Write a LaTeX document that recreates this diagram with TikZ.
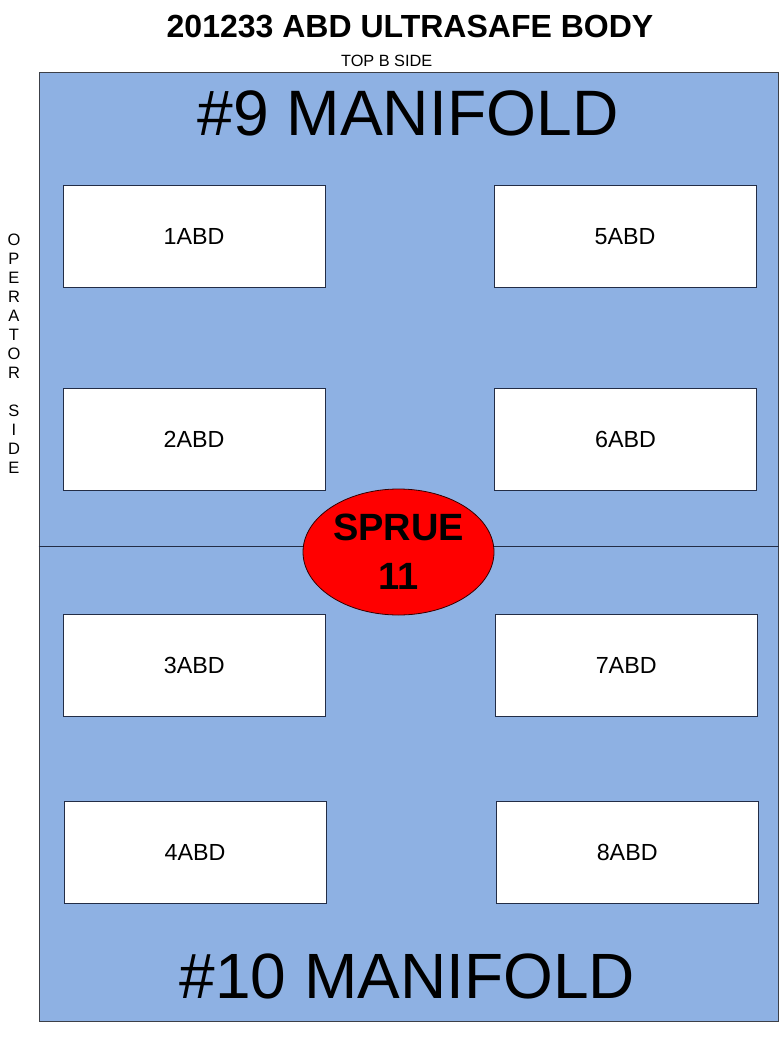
\documentclass[tikz,border=0pt]{standalone}
\usepackage{fontspec}
\setmainfont{Liberation Sans}
\usetikzlibrary{shapes.geometric}
\definecolor{bodyblue}{RGB}{142,177,227}
\definecolor{edgenavy}{RGB}{35,45,70}
\definecolor{edgegrey}{RGB}{60,64,72}
\definecolor{spruered}{RGB}{255,0,0}
\newcommand{\fsz}[1]{\fontsize{#1pt}{#1pt}\selectfont}
\begin{document}
\begin{tikzpicture}[x=1pt,y=-1pt,
  txt/.style={inner sep=0pt, outer sep=0pt, anchor=base, text=black},
  abdbox/.style={draw=edgenavy, fill=white, line width=1pt, minimum width=262pt, minimum height=102pt, inner sep=0pt, font=\fsz{23.3}},
  opletter/.style={inner sep=0pt, font=\fsz{16.5}},
]
\useasboundingbox (0,0) rectangle (780,1044);
\fill[white] (0,0) rectangle (780,1044);

% title texts
\node[txt, font=\fsz{32}\bfseries] (title) at (410,37.7) {201233 ABD ULTRASAFE BODY};
\node[txt, font=\fsz{16.3}] (top) at (386.7,66) {TOP B SIDE};

% body
\node[draw=edgegrey, fill=bodyblue, line width=1pt, minimum width=739pt, minimum height=949pt, inner sep=0pt] (body) at (408.5,546.5) {};
\draw[edgenavy, line width=1pt] (body.west) -- (body.east);

\node[txt, font=\fsz{64.2}] (m9) at (408,135) {\#9 MANIFOLD};
\node[txt, font=\fsz{64}] (m10) at (407.3,998.3) {\#10 MANIFOLD};

% cavities
\node[abdbox] (b1) at (194,236.2) {1ABD};
\node[abdbox] (b5) at (625,236.2) {5ABD};
\node[abdbox] (b2) at (194,439.5) {2ABD};
\node[abdbox] (b6) at (625.5,439.5) {6ABD};
\node[abdbox] (b3) at (194.3,665.8) {3ABD};
\node[abdbox] (b7) at (626.2,665.8) {7ABD};
\node[abdbox] (b4) at (195,852.5) {4ABD};
\node[abdbox] (b8) at (627.2,852.5) {8ABD};

% sprue
\node[ellipse, draw=black!80!red, fill=spruered, line width=0.8pt, minimum width=191pt, minimum height=126pt, inner sep=0pt, align=center, font=\fontsize{38pt}{49pt}\selectfont\bfseries] (sprue) at (398.5,552) {SPRUE\\11};

% operator side
\foreach \l/\k in {O/0,P/1,E/2,R/3,A/4,T/5,O/6,R/7,S/9,I/10,D/11,E/12}{
  \node[opletter] (op\k) at (14,240+19*\k) {\l};
}
\end{tikzpicture}
\end{document}
